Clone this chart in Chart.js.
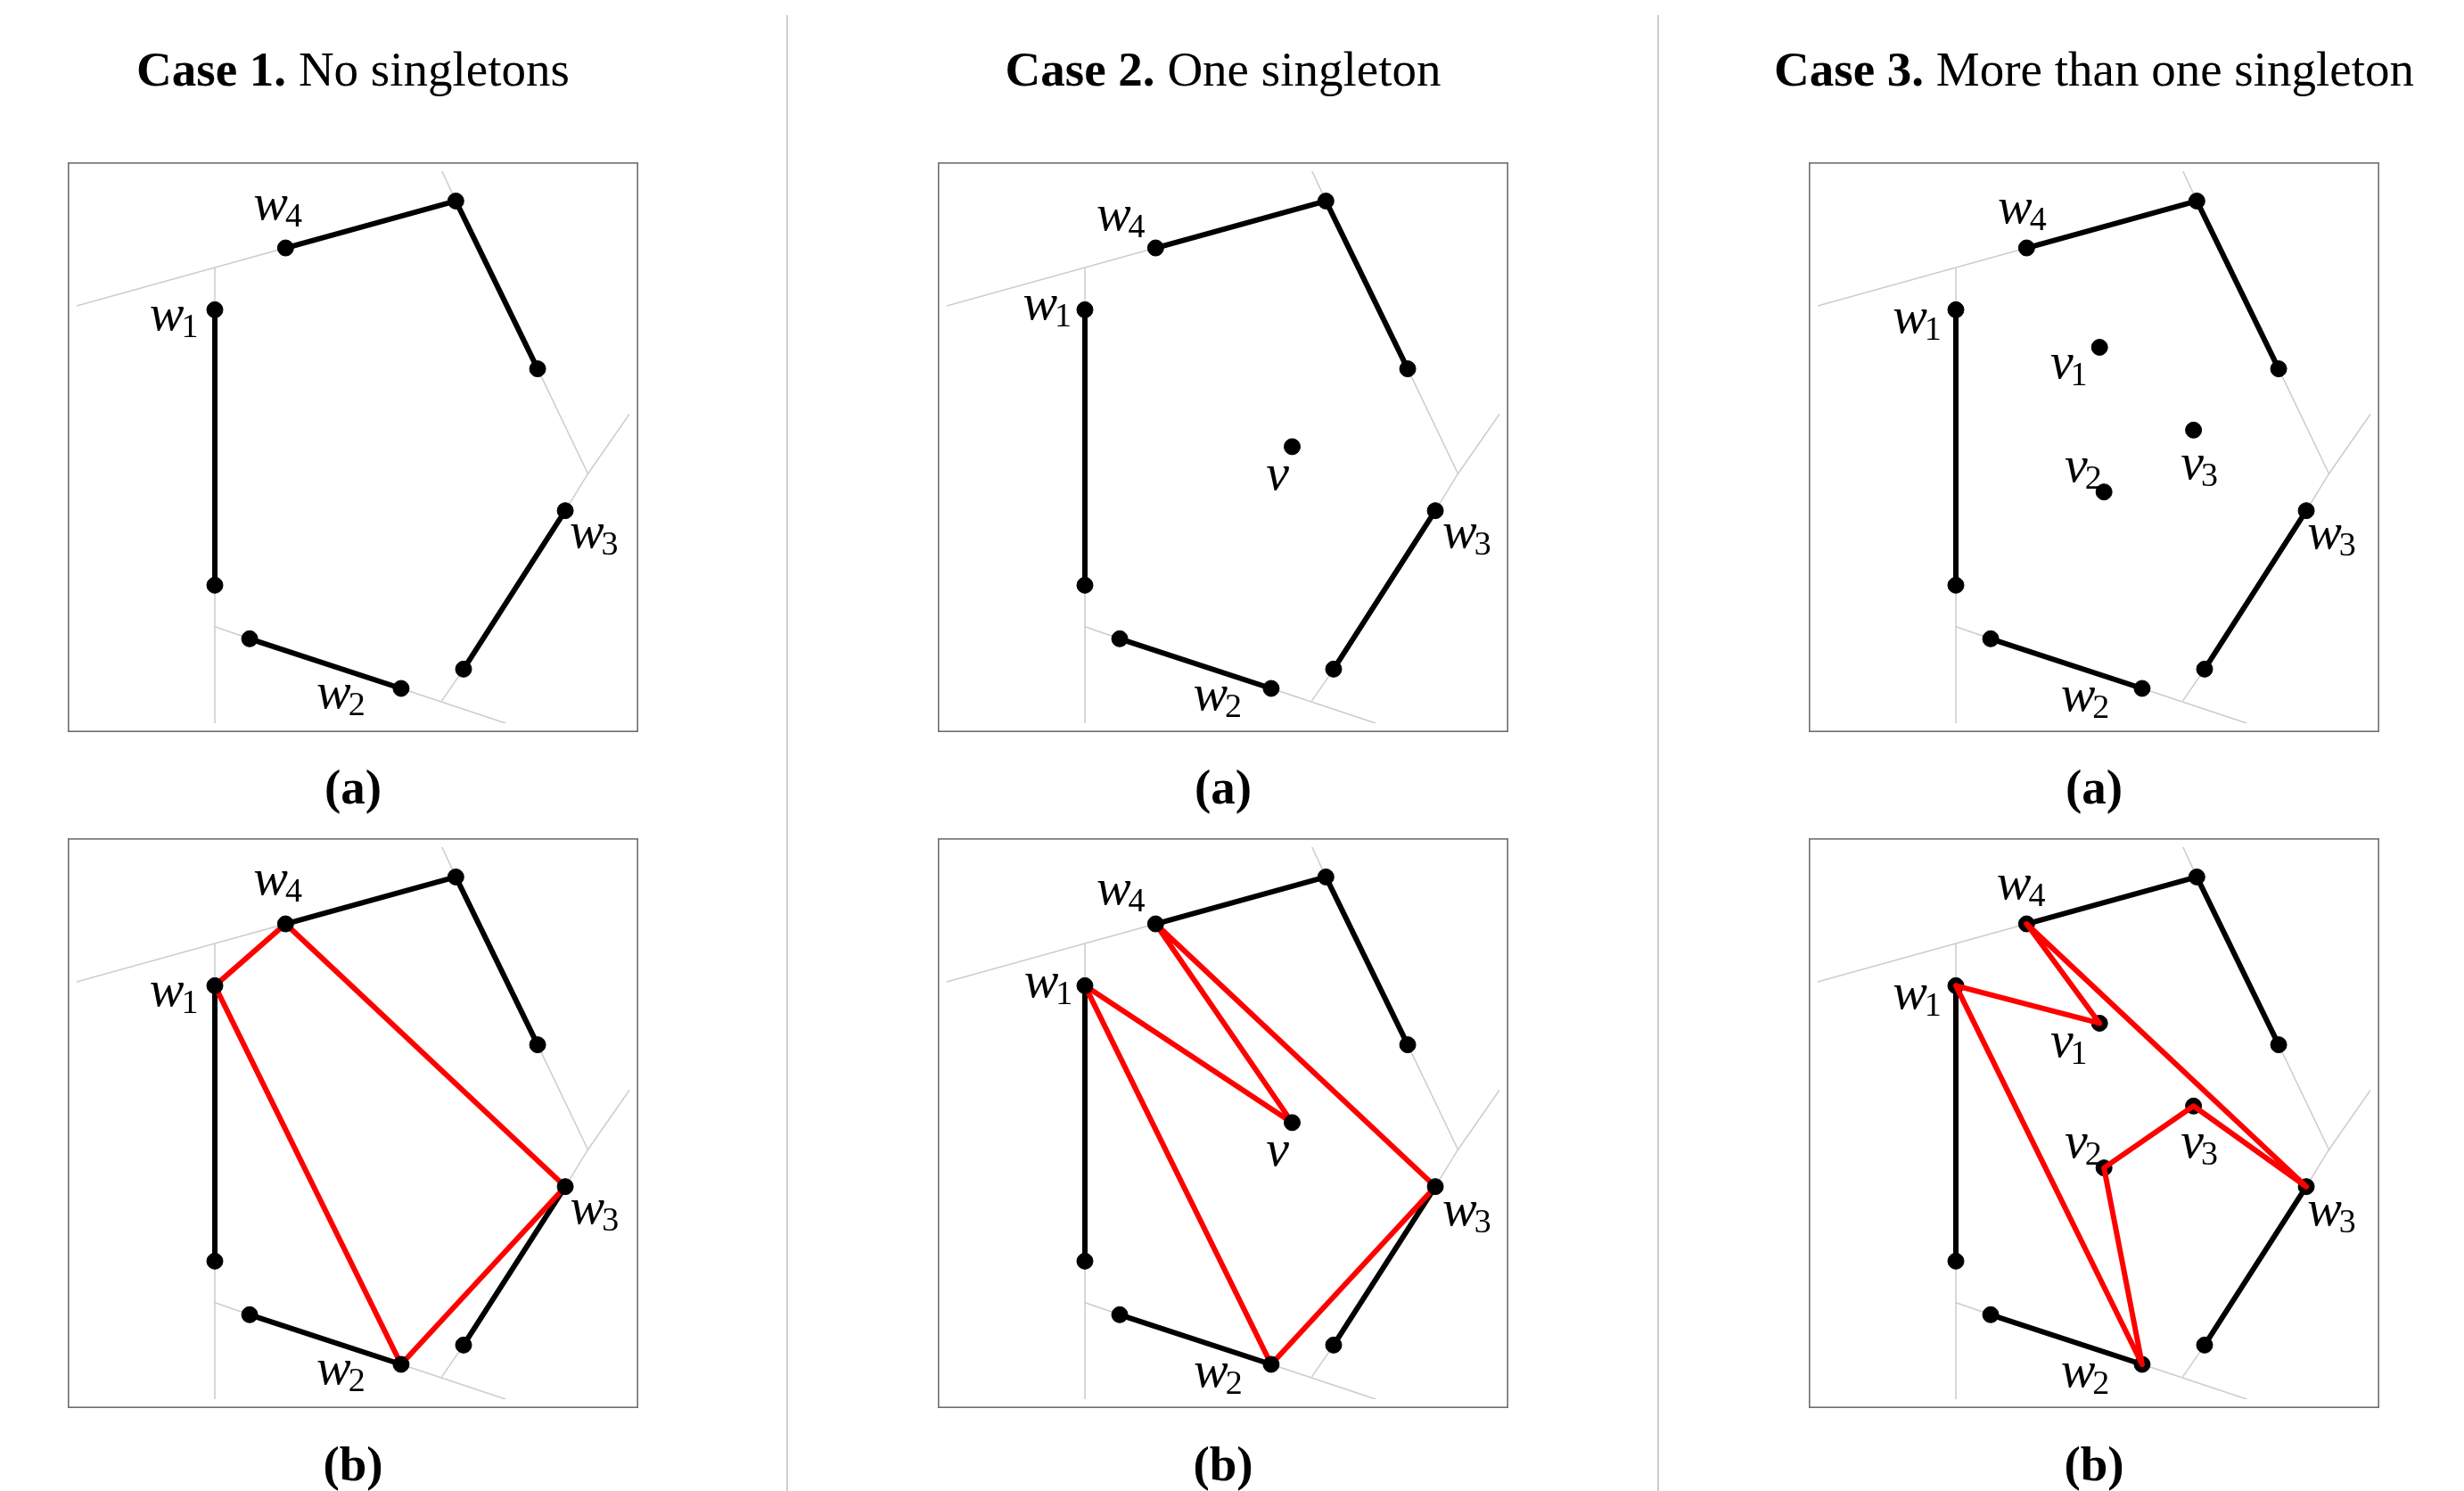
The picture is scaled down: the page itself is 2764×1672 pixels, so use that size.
<!DOCTYPE html>
<html>
<head>
<meta charset="utf-8">
<script src="https://cdn.jsdelivr.net/npm/chart.js@4.4.1/dist/chart.umd.min.js"></script>
<style>
html,body{margin:0;padding:0;background:#ffffff;}
body{width:2764px;height:1672px;position:relative;overflow:hidden;font-family:"Liberation Serif","Times New Roman","DejaVu Serif",serif;color:#000;}
.title,.sub{position:absolute;width:800px;text-align:center;font-size:55px;line-height:55px;white-space:nowrap;}
.title b,.sub b{font-weight:bold;}
.divider{position:absolute;top:17px;width:2px;height:1655px;background:#cdcdcd;}
canvas{position:absolute;}
</style>
</head>
<body>
<script>
// ---------- data (box units: 0..100 across, 0..100 down) ----------
const pointNames = ['w1','w1e','w2s','w2','w3','w3e','w4','w4t','w4e','v','v1','v2','v3'];
const pointX     = [25.0, 25.0, 31.3, 58.7, 88.4, 70.0, 37.8, 68.6, 83.4, 62.5, 51.0, 51.8, 68.0];
const pointY     = [25.1, 75.0, 84.7, 93.7, 61.5, 90.2, 13.9,  5.4, 35.8, 49.9, 31.9, 58.1, 46.9];

// black obstacle chains (by point name)
const wallPaths = [['w1','w1e'], ['w2s','w2'], ['w3','w3e'], ['w4','w4t','w4e']];

// light gray partition lines
const bisectorX = [[0,37.8],[25.0,25.0],[66.1,68.6],[83.4,92.5],[92.5,100],[92.5,88.4],[25.0,25.0],[25.0,31.3],[70.0,66.1],[58.7,77.6]];
const bisectorY = [[24.4,13.9],[17.6,25.1],[0,5.4],[35.8,54.8],[54.8,44.0],[54.8,61.5],[75.0,100],[82.5,84.7],[90.2,95.9],[93.7,100]];

// per case
const caseBold = ['Case 1.', 'Case 2.', 'Case 3.'];
const caseText = ['No singletons', 'One singleton', 'More than one singleton'];
const rowLabels = ['(a)', '(b)'];
const singletons = [[], ['v'], ['v1','v2','v3']];
const tours = [
  ['w1','w4','w3','w2','w1'],
  ['w1','v','w4','w3','w2','w1'],
  ['w1','v1','w4','w3','v3','v2','w2','w1']
];

// label text per panel: [letter, subscript, x, y(baseline)]
const panelLabels = [
  [ [['w','1',13.5,28.7],['w','2',43.7,97.3],['w','3',89.5,68.1],['w','4',32.3,8.8]],
    [['w','1',13.5,28.7],['w','2',43.7,97.3],['w','3',89.6,68.2],['w','4',32.3,8.6]] ],
  [ [['w','1',14.1,26.8],['w','2',44.9,97.5],['w','3',90.0,68.1],['w','4',27.4,10.7],['v','',58.1,57.7]],
    [['w','1',14.3,27.1],['w','2',45.0,97.8],['w','3',90.0,68.5],['w','4',27.4,10.3],['v','',58.1,57.6]] ],
  [ [['w','1',13.9,29.3],['w','2',44.3,97.8],['w','3',88.9,68.4],['w','4',32.9,9.3],['v','1',42.4,37.5],['v','2',45.0,56.2],['v','3',66.0,55.8]],
    [['w','1',13.9,29.2],['w','2',44.3,97.8],['w','3',88.9,68.5],['w','4',32.7,9.3],['v','1',42.4,37.9],['v','2',45.0,56.3],['v','3',66.0,56.3]] ]
];

// ---------- layout ----------
const colLeft = [76, 1052, 2029];
const rowTop = [182, 940];
const boxW = 640, boxH = 639;
const dividerX = [882, 1859];
const FONT = '"Liberation Serif", "Times New Roman", "DejaVu Serif", serif';

function pt(name){ const i = pointNames.indexOf(name); return {x: pointX[i], y: pointY[i]}; }

const labelPlugin = {
  id: 'mathLabels',
  afterDatasetsDraw(chart, args, opts){
    const ctx = chart.ctx, sx = chart.scales.x, sy = chart.scales.y;
    ctx.save();
    ctx.fillStyle = '#000';
    ctx.textBaseline = 'alphabetic';
    ctx.textAlign = 'left';
    (opts.items || []).forEach(it => {
      const x = sx.getPixelForValue(it[2]) - 2, y = sy.getPixelForValue(it[3]);
      ctx.font = 'italic 58px ' + FONT;
      ctx.fillText(it[0], x, y);
      const w = ctx.measureText(it[0]).width;
      if (it[1]) {
        ctx.font = '38px ' + FONT;
        ctx.fillText(it[1], x + w - 3, y + 8);
      }
    });
    ctx.restore();
  }
};
const borderPlugin = {
  id: 'boxBorder',
  afterDraw(chart){
    const ctx = chart.ctx;
    ctx.save();
    ctx.strokeStyle = '#6e6e6e';
    ctx.lineWidth = 1.6;
    ctx.strokeRect(0.8, 0.8, chart.width - 1.6, chart.height - 1.6);
    ctx.restore();
  }
};

function lineDS(points, color, width, order){
  return {data: points, showLine: true, borderColor: color, backgroundColor: color, borderWidth: width,
          pointRadius: 0, pointHoverRadius: 0, fill: false, tension: 0, order: order,
          borderJoinStyle: 'round', borderCapStyle: 'round', clip: 0};
}

function makePanel(c, r){
  const canvas = document.createElement('canvas');
  canvas.width = boxW; canvas.height = boxH;
  canvas.style.left = colLeft[c] + 'px';
  canvas.style.top = rowTop[r] + 'px';
  canvas.style.width = boxW + 'px';
  canvas.style.height = boxH + 'px';
  document.body.appendChild(canvas);

  const datasets = [];
  bisectorX.forEach((xs, i) => {
    datasets.push(lineDS([{x: xs[0], y: bisectorY[i][0]}, {x: xs[1], y: bisectorY[i][1]}], '#cccccc', 1.5, 10));
  });
  wallPaths.forEach(p => datasets.push(lineDS(p.map(pt), '#000000', 6, 8)));
  if (r === 1) {
    datasets.push(lineDS(tours[c].map(pt), '#ff0000', 6, c === 2 ? 4 : 6));
  }
  const dots = [];
  wallPaths.forEach(p => p.forEach(n => dots.push(pt(n))));
  singletons[c].forEach(n => dots.push(pt(n)));
  datasets.push({data: dots, showLine: false, pointRadius: 9, pointHoverRadius: 9, pointStyle: 'circle',
                 pointBackgroundColor: '#000', pointBorderColor: '#000', pointBorderWidth: 1,
                 backgroundColor: '#000', borderColor: '#000', order: 5});

  new Chart(canvas, {
    type: 'scatter',
    data: {datasets},
    options: {
      responsive: false, animation: false, events: [],
      layout: {padding: 0},
      plugins: {legend: {display: false}, tooltip: {enabled: false}, mathLabels: {items: panelLabels[c][r]}},
      scales: {
        x: {type: 'linear', min: 0, max: 100, display: false},
        y: {type: 'linear', min: 0, max: 100, reverse: true, display: false}
      }
    },
    plugins: [labelPlugin, borderPlugin]
  });
}

// titles, row labels, dividers
for (let c = 0; c < 3; c++) {
  const cx = colLeft[c] + boxW / 2;
  const t = document.createElement('div');
  t.className = 'title';
  t.style.left = (cx - 400) + 'px';
  t.style.top = '50px';
  const b = document.createElement('b'); b.textContent = caseBold[c];
  t.appendChild(b);
  t.appendChild(document.createTextNode(' ' + caseText[c]));
  document.body.appendChild(t);
  [855, 1614].forEach((top, r) => {
    const s = document.createElement('div');
    s.className = 'sub';
    s.style.left = (cx - 400) + 'px';
    s.style.top = top + 'px';
    const bb = document.createElement('b'); bb.textContent = rowLabels[r];
    s.appendChild(bb);
    document.body.appendChild(s);
  });
}
dividerX.forEach(x => {
  const d = document.createElement('div');
  d.className = 'divider';
  d.style.left = x + 'px';
  document.body.appendChild(d);
});
for (let c = 0; c < 3; c++) for (let r = 0; r < 2; r++) makePanel(c, r);
</script>
</body>
</html>
